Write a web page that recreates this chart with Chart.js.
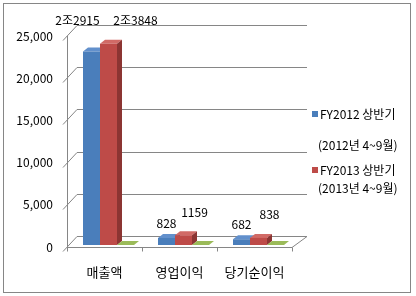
<!DOCTYPE html>
<html>
<head>
<meta charset="utf-8">
<script src="https://cdn.jsdelivr.net/npm/chart.js@4.4.1/dist/chart.umd.min.js"></script>
<style>
  html, body { margin: 0; padding: 0; background: #fff; }
  #wrap { width: 416px; height: 296px; }
</style>
</head>
<body>
<div id="wrap"><canvas id="chart" width="416" height="296"></canvas></div>
<script>
const categories = ['매출액', '영업이익', '당기순이익'];
const fy2012 = [22915, 828, 682];
const fy2013 = [23848, 1159, 838];
const floorSeries = [0, 0, 0];
const labels2012 = ['2조2915', '828', '682'];
const labels2013 = ['2조3848', '1159', '838'];
const legendLines = [
  ['FY2012 상반기', '(2012년 4~9월)'],
  ['FY2013 상반기', '(2013년 4~9월)']
];
const yMax = 25000;
const yStep = 5000;

const FONT = '"Noto Sans CJK KR", "Noto Sans", sans-serif';
Chart.defaults.font.family = FONT;

// 3d look: face colours per series
const faces = [
  { front: '#4a7ebb', top: '#6290cc', side: '#35608f' },
  { front: '#be4b48', top: '#d16a66', side: '#8c3533' },
  { front: '#9bbb59', top: '#9bbb59', side: '#7a9744' }
];
const OX = 4, OY = -2;      // bar shift into depth
const BDX = 5, BDY = -4;    // bar depth
const WDX = 10, WDY = -11;  // back wall offset

function poly(ctx, pts, fill) {
  ctx.beginPath();
  ctx.moveTo(pts[0][0], pts[0][1]);
  for (let i = 1; i < pts.length; i++) ctx.lineTo(pts[i][0], pts[i][1]);
  ctx.closePath();
  ctx.fillStyle = fill;
  ctx.fill();
}

const box3d = {
  id: 'box3d',
  beforeDraw(chart) {
    const ctx = chart.ctx;
    ctx.save();
    ctx.fillStyle = '#fff';
    ctx.fillRect(0, 0, chart.width, chart.height);
    ctx.strokeStyle = '#868686';
    ctx.lineWidth = 1;
    ctx.strokeRect(3.5, 3.5, 407, 289);
    ctx.restore();
  },
  beforeDatasetsDraw(chart) {
    const ctx = chart.ctx;
    const a = chart.chartArea;
    const ys = chart.scales.y;
    const xs = chart.scales.x;
    ctx.save();
    ctx.strokeStyle = '#868686';
    ctx.lineWidth = 1;

    // back wall grid lines and left wall diagonals
    ys.ticks.forEach(t => {
      const y = Math.round(ys.getPixelForValue(t.value)) + 0.5;
      ctx.beginPath();
      ctx.moveTo(a.left + WDX, y + WDY);
      ctx.lineTo(a.right + WDX + 5, y + WDY);
      ctx.stroke();
      ctx.beginPath();
      ctx.moveTo(a.left - 4, y + 4);
      ctx.lineTo(a.left + WDX, y + WDY);
      ctx.stroke();
    });
    // left wall front edge
    ctx.beginPath();
    ctx.moveTo(a.left + 0.5, ys.getPixelForValue(yMax));
    ctx.lineTo(a.left + 0.5, a.bottom);
    ctx.stroke();

    // floor
    const fb = Math.round(a.bottom) + 0.5;
    ctx.beginPath();
    ctx.moveTo(a.left, fb);
    ctx.lineTo(a.right, fb);
    ctx.lineTo(a.right + WDX + 5, fb + WDY);
    ctx.stroke();
    // category tick marks
    for (let i = 0; i <= categories.length; i++) {
      const x = Math.round(xs.getPixelForValue(i - 0.5)) + 0.5;
      ctx.beginPath();
      ctx.moveTo(x, fb);
      ctx.lineTo(x, fb + 4);
      ctx.stroke();
    }

    // bars, category by category so nearer faces cover farther ones
    for (let i = 0; i < categories.length; i++) {
      chart.data.datasets.forEach((ds, d) => {
        const el = chart.getDatasetMeta(d).data[i];
        const c = faces[d];
        const l = el.x - el.width / 2 + OX;
        const r = el.x + el.width / 2 + OX;
        const t = el.y + OY;
        const b = el.base + OY;
        poly(ctx, [[l, t], [r, t], [r + BDX, t + BDY], [l + BDX, t + BDY]], c.top);
        if (b - t > 0.5) {
          poly(ctx, [[r, t], [r + BDX, t + BDY], [r + BDX, b + BDY], [r, b]], c.side);
          poly(ctx, [[l, t], [r, t], [r, b], [l, b]], c.front);
        }
      });
    }
    ctx.restore();
    return false;
  },
  afterDraw(chart) {
    const ctx = chart.ctx;
    ctx.save();
    ctx.fillStyle = '#000';
    ctx.font = '12px ' + FONT;
    ctx.textAlign = 'center';
    ctx.textBaseline = 'middle';

    // value labels; ones that would hit the top edge sit on one row and spread apart
    const sets = [labels2012, labels2013];
    const shiftNormal = [0, 11];
    const shiftTop = [-14, 27];
    const lift = [15, 23];
    sets.forEach((texts, d) => {
      const meta = chart.getDatasetMeta(d);
      texts.forEach((txt, i) => {
        const el = meta.data[i];
        let y = el.y + OY - lift[d];
        let dx = shiftNormal[d];
        if (y < 40) { y = 20; dx = shiftTop[d]; }
        ctx.fillText(txt, el.x + OX + dx, y);
      });
    });

    // legend
    const legendY = [[114, 145], [170, 188]];
    ctx.textAlign = 'left';
    legendLines.forEach((lines, d) => {
      ctx.fillStyle = faces[d].front;
      ctx.fillRect(312, legendY[d][0] - 3, 6, 6);
      ctx.fillStyle = '#000';
      ctx.fillText(lines[0], 320, legendY[d][0]);
      ctx.fillText(lines[1], 318, legendY[d][1]);
    });
    ctx.restore();
  }
};

new Chart(document.getElementById('chart'), {
  type: 'bar',
  data: {
    labels: categories,
    datasets: [
      { label: legendLines[0].join(' '), data: fy2012, backgroundColor: faces[0].front },
      { label: legendLines[1].join(' '), data: fy2013, backgroundColor: faces[1].front },
      { label: '', data: floorSeries, backgroundColor: faces[2].front }
    ]
  },
  options: {
    responsive: false,
    animation: false,
    events: [],
    layout: { padding: { top: 36, right: 124, bottom: 9, left: 0 } },
    categoryPercentage: 0.68,
    barPercentage: 1.0,
    plugins: {
      legend: { display: false },
      tooltip: { enabled: false }
    },
    scales: {
      x: {
        grid: { display: false, drawTicks: false },
        border: { display: false },
        ticks: { color: '#000', font: { size: 13 }, padding: 17, maxRotation: 0 },
        afterFit(scale) { scale.height = 40; }
      },
      y: {
        min: 0,
        max: yMax,
        grid: { display: false, drawTicks: false },
        border: { display: false },
        ticks: {
          stepSize: yStep,
          color: '#000',
          font: { size: 12 },
          padding: 14,
          callback: v => v.toLocaleString('en-US')
        },
        afterFit(scale) { scale.width = 67; }
      }
    }
  },
  plugins: [box3d]
});
</script>
</body>
</html>
